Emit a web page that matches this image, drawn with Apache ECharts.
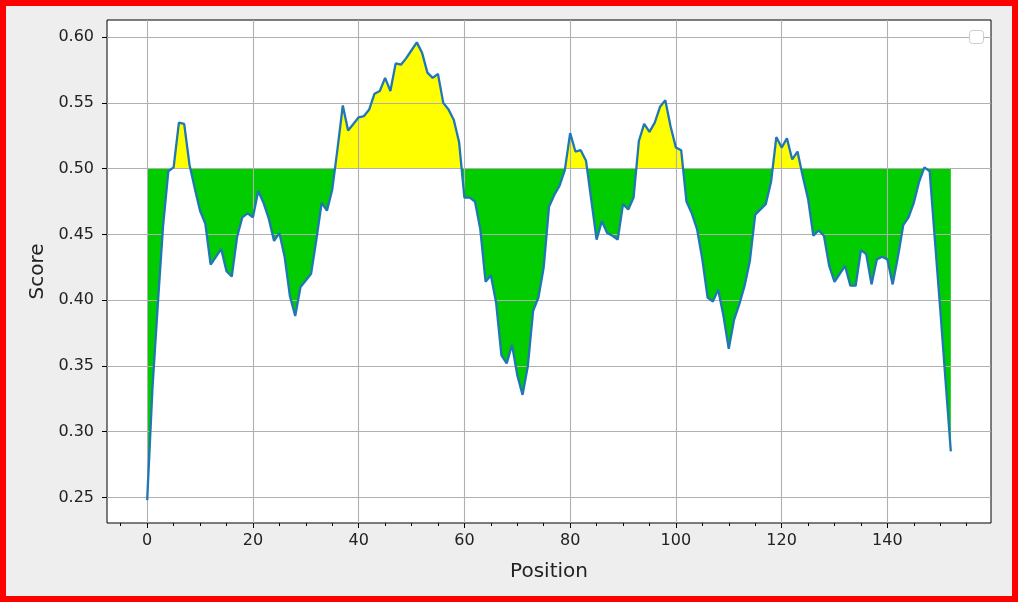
<!DOCTYPE html>
<html><head><meta charset="utf-8">
<script src="https://cdn.jsdelivr.net/npm/echarts@6/dist/echarts.min.js"></script>
<style>
html,body{margin:0;padding:0;}
#wrap{width:1018px;height:602px;box-sizing:border-box;border:6px solid #ff0000;background:#eeeeee;}
#chart{width:1006px;height:590px;}
</style>
</head><body><div id="wrap"><div id="chart"></div></div>
<script>
const scores = [
  0.248, 0.333, 0.396, 0.456, 0.498, 0.501, 0.535, 0.534, 0.503, 0.485,
  0.468, 0.458, 0.427, 0.433, 0.439, 0.422, 0.418, 0.448, 0.463, 0.466,
  0.463, 0.483, 0.474, 0.462, 0.445, 0.451, 0.433, 0.403, 0.388, 0.410,
  0.415, 0.420, 0.446, 0.474, 0.468, 0.484, 0.515, 0.548, 0.529, 0.534,
  0.539, 0.540, 0.545, 0.557, 0.559, 0.569, 0.559, 0.580, 0.579, 0.584,
  0.590, 0.596, 0.588, 0.573, 0.569, 0.572, 0.550, 0.545, 0.537, 0.520,
  0.478, 0.478, 0.475, 0.454, 0.414, 0.419, 0.398, 0.358, 0.352, 0.366,
  0.343, 0.328, 0.350, 0.392, 0.402, 0.425, 0.471, 0.480, 0.487, 0.499,
  0.527, 0.513, 0.514, 0.506, 0.476, 0.446, 0.460, 0.451, 0.449, 0.446,
  0.473, 0.469, 0.478, 0.521, 0.534, 0.528, 0.535, 0.547, 0.552, 0.532,
  0.516, 0.514, 0.475, 0.466, 0.454, 0.431, 0.402, 0.399, 0.408, 0.388,
  0.363, 0.385, 0.397, 0.411, 0.430, 0.465, 0.469, 0.473, 0.490, 0.524,
  0.516, 0.523, 0.507, 0.513, 0.494, 0.477, 0.449, 0.453, 0.449, 0.426,
  0.414, 0.420, 0.426, 0.411, 0.411, 0.438, 0.435, 0.412, 0.431, 0.433,
  0.431, 0.412, 0.433, 0.457, 0.463, 0.474, 0.490, 0.501, 0.498, 0.445,
  0.393, 0.339, 0.285
];
const threshold = 0.5;
const xMajorTicks = [0, 20, 40, 60, 80, 100, 120, 140];
const xMinorTicks = [-5, 5, 10, 15, 25, 30, 35, 45, 50, 55, 65, 70, 75, 85, 90, 95, 105, 110, 115, 125, 130, 135, 145, 150, 155];
const yTicks = [0.25, 0.30, 0.35, 0.40, 0.45, 0.50, 0.55, 0.60];
const xName = 'Position';
const yName = 'Score';

const linePts = scores.map((v, i) => [i, v]);

const FONT = 'DejaVu Sans';
const TXT = '#222';
const GREEN = '#00cc00', YELLOW = '#ffff00';
const chart = echarts.init(document.getElementById('chart'), null, {renderer: 'canvas'});
chart.setOption({
  animation: false,
  backgroundColor: '#eeeeee',
  grid: {left: 101, top: 14, width: 884, height: 503, show: true, backgroundColor: '#ffffff', borderColor: '#000', borderWidth: 1},
  visualMap: {
    type: 'piecewise', show: false, seriesIndex: 0, dimension: 1,
    pieces: [{gte: 0, lt: threshold, color: GREEN}, {gte: threshold, lte: 1, color: YELLOW}],
    outOfRange: {color: GREEN}
  },
  xAxis: [{
    type: 'value', min: -7.6, max: 159.6, z: 1.5,
    name: xName, nameLocation: 'middle', nameGap: 39,
    nameTextStyle: {fontFamily: FONT, fontSize: 20, color: TXT},
    axisLine: {show: false, onZero: false},
    axisTick: {show: true, length: 5, customValues: xMajorTicks, lineStyle: {color: '#000'}},
    axisLabel: {customValues: xMajorTicks, fontFamily: FONT, fontSize: 16, color: TXT, margin: 10},
    splitLine: {show: true, lineStyle: {color: '#b0b0b0', width: 1.1}}
  }, {
    type: 'value', min: -7.6, max: 159.6, position: 'bottom', z: 1.5,
    axisLine: {show: false, onZero: false},
    axisTick: {show: true, length: 3, customValues: xMinorTicks, lineStyle: {color: '#000'}},
    axisLabel: {show: false},
    splitLine: {show: false}
  }],
  yAxis: {
    type: 'value', min: 0.2306, max: 0.6130, z: 1.5,
    name: yName, nameLocation: 'middle', nameGap: 59,
    nameTextStyle: {fontFamily: FONT, fontSize: 20, color: TXT},
    axisLine: {show: false, onZero: false},
    axisTick: {show: true, length: 5, customValues: yTicks, lineStyle: {color: '#000'}},
    axisLabel: {customValues: yTicks, fontFamily: FONT, fontSize: 16, color: TXT, margin: 13,
      formatter: v => v.toFixed(2)},
    splitLine: {show: true, lineStyle: {color: '#b0b0b0', width: 1.1}}
  },
  graphic: [{
    type: 'rect', left: 963, top: 24, z: 100,
    shape: {width: 14, height: 13, r: 3},
    style: {fill: '#ffffff', stroke: '#cccccc', lineWidth: 1}
  }],
  series: [{
    type: 'line', data: linePts, showSymbol: false, z: 1,
    lineStyle: {opacity: 0, width: 0},
    areaStyle: {opacity: 1, origin: threshold},
    silent: true
  }, {
    type: 'line', data: linePts, showSymbol: false, z: 3,
    lineStyle: {color: '#1f77b4', width: 2.3},
    itemStyle: {color: '#1f77b4'},
    silent: true
  }]
});
</script>
</body></html>
